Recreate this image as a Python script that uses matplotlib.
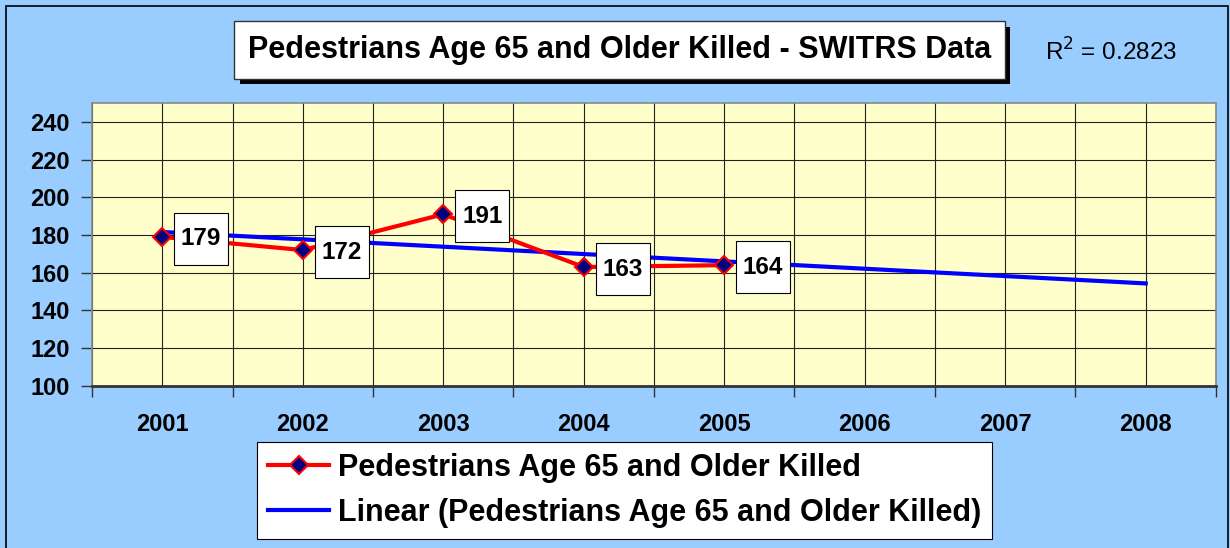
import numpy as np
import matplotlib.pyplot as plt
from matplotlib.patches import Rectangle
from matplotlib.path import Path
from matplotlib import patheffects

plt.rcParams['font.family'] = ['Liberation Sans', 'DejaVu Sans']

years = ['2001', '2002', '2003', '2004', '2005', '2006', '2007', '2008']
killed = [179, 172, 191, 163, 164]
series_name = 'Pedestrians Age 65 and Older Killed'
title = 'Pedestrians Age 65 and Older Killed - SWITRS Data'

# linear trend over the observed years, extended to 2008
xs = np.arange(len(killed))
coef = np.polyfit(xs, killed, 1)
fit = np.polyval(coef, xs)
r2 = 1 - np.sum((np.array(killed) - fit) ** 2) / np.sum((np.array(killed) - np.mean(killed)) ** 2)
trend_x = np.arange(len(years))
trend_y = np.polyval(coef, trend_x)


# tall narrow box like the excel data labels
def label_box(x0, y0, width, height, mutation_size):
    px, py = 0.28 * mutation_size, 0.6 * mutation_size
    x0, x1 = x0 - px, x0 + width + px
    y0, y1 = y0 - py, y0 + height + py
    return Path([(x0, y0), (x1, y0), (x1, y1), (x0, y1), (x0, y0)], closed=True)


fig = plt.figure(figsize=(12.3, 5.48), dpi=100)
fig.patch.set_facecolor('#99CCFF')
fig.patches.append(Rectangle((0.005, -0.01), 0.993, 0.999, transform=fig.transFigure,
                             fill=False, edgecolor='black', linewidth=1.2))

ax = fig.add_axes([0.0748, 0.2962, 0.9138, 0.5155])
ax.set_facecolor('#FFFFCC')

ax.plot(trend_x, trend_y, color='#0000FF', linewidth=3, zorder=3,
        label='Linear (' + series_name + ')')
ax.plot(xs, killed, color='#FF0000', linewidth=3, marker='D', markersize=9.5,
        markerfacecolor='#000080', markeredgecolor='#FF0000', markeredgewidth=1.5,
        zorder=4, label=series_name)

for x, v in zip(xs, killed):
    ax.annotate(str(v), (x, v), xytext=(28, -1.5), textcoords='offset points',
                ha='center', va='center', fontsize=17.5, fontweight='bold', zorder=6,
                bbox=dict(boxstyle=label_box, facecolor='white', edgecolor='black', linewidth=0.8))

ax.set_xlim(-0.5, len(years) - 0.5)
ax.set_ylim(100, 250)
ax.set_yticks(np.arange(100, 241, 20))
ax.set_xticks(np.arange(-0.5, len(years), 1))
ax.set_xticklabels([])
ax.set_xticks(np.arange(len(years)), minor=True)
ax.set_xticklabels(years, minor=True)
ax.tick_params(axis='x', which='major', length=8, width=1, color='#333333')
ax.tick_params(axis='x', which='minor', length=0, pad=20, labelsize=17)
ax.tick_params(axis='y', length=8, width=1, color='#333333', labelsize=17, pad=8)
for lab in ax.get_xticklabels(minor=True) + ax.get_yticklabels():
    lab.set_fontweight('bold')

ax.grid(True, which='both', axis='x', color='#222222', linewidth=0.8)
ax.grid(True, which='major', axis='y', color='#222222', linewidth=0.8)
ax.set_axisbelow(True)
for s in ['top', 'right', 'left']:
    ax.spines[s].set_color('#888888')
    ax.spines[s].set_linewidth(1.2)
ax.spines['bottom'].set_color('#333333')
ax.spines['bottom'].set_linewidth(2)

# title box with drop shadow
t = fig.text(0.5037, 0.909, title, ha='center', va='center', fontsize=22, fontweight='bold',
             bbox=dict(boxstyle='square,pad=0.45', facecolor='white', edgecolor='#333333', linewidth=1))
t.get_bbox_patch().set_path_effects([
    patheffects.SimplePatchShadow(offset=(4, -4), shadow_rgbFace='black', alpha=1),
    patheffects.Normal()])

fig.text(0.903, 0.905, 'R$^2$ = %.4f' % r2, ha='center', va='center', fontsize=17.5)

handles, labels = ax.get_legend_handles_labels()
leg = fig.legend(handles[::-1], labels[::-1], loc='center', bbox_to_anchor=(0.508, 0.105),
                 fancybox=False, framealpha=1, edgecolor='black', handlelength=2.0,
                 prop={'size': 22, 'weight': 'bold'}, borderpad=0.35, labelspacing=0.5,
                 handletextpad=0.3, borderaxespad=0)
leg.get_frame().set_linewidth(0.8)

fig.savefig('out.png', dpi=100, facecolor=fig.get_facecolor())
